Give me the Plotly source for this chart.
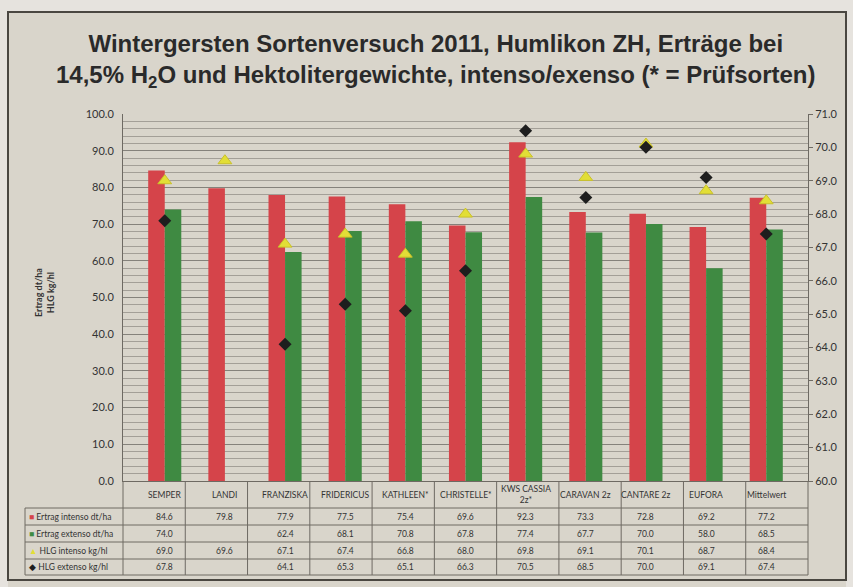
import plotly.graph_objects as go

categories = ["SEMPER", "LANDI", "FRANZISKA", "FRIDERICUS", "KATHLEEN*", "CHRISTELLE*",
              "KWS CASSIA 2z*", "CARAVAN 2z", "CANTARE 2z", "EUFORA", "Mittelwert"]
header_labels = ["SEMPER", "LANDI", "FRANZISKA", "FRIDERICUS", "KATHLEEN*", "CHRISTELLE*",
                 "KWS CASSIA<br>2z*", "CARAVAN 2z", "CANTARE 2z", "EUFORA", "Mittelwert"]
ertrag_intenso = [84.6, 79.8, 77.9, 77.5, 75.4, 69.6, 92.3, 73.3, 72.8, 69.2, 77.2]
ertrag_extenso = [74.0, None, 62.4, 68.1, 70.8, 67.8, 77.4, 67.7, 70.0, 58.0, 68.5]
hlg_intenso = [69.0, 69.6, 67.1, 67.4, 66.8, 68.0, 69.8, 69.1, 70.1, 68.7, 68.4]
hlg_extenso = [67.8, None, 64.1, 65.3, 65.1, 66.3, 70.5, 68.5, 70.0, 69.1, 67.4]
series_names = ["Ertrag intenso dt/ha", "Ertrag extenso dt/ha", "HLG intenso kg/hl", "HLG extenso kg/hl"]

RED = "#d5444a"
GREEN = "#3f8a42"
YELLOW = "#e2de36"
BLACK = "#1e1e1e"
PAPER = "#d9d5cb"
OUTSIDE = "#e6e3de"
LINE = "#6e6a63"
TXT = "#333333"

W, H = 853, 587
L, R, T, B = 123, 808, 114, 481


def px(x):
    return (x - L) / (R - L)


def py(y):
    return (B - y) / (B - T)


fig = go.Figure()
fig.add_trace(go.Bar(x=categories, y=ertrag_intenso, name=series_names[0], marker_color=RED,
                     marker_line_width=0))
fig.add_trace(go.Bar(x=categories, y=ertrag_extenso, name=series_names[1], marker_color=GREEN,
                     marker_line_width=0))
fig.add_trace(go.Scatter(x=categories, y=hlg_intenso, name=series_names[2], mode="markers", yaxis="y2",
                         marker=dict(symbol="triangle-up", size=12, color=YELLOW,
                                     line=dict(color="#c9c12a", width=1))))
fig.add_trace(go.Scatter(x=categories, y=hlg_extenso, name=series_names[3], mode="markers", yaxis="y2",
                         marker=dict(symbol="diamond", size=10, color=BLACK)))

shapes = []
# light border outside the frame
for x0, x1, y0, y1 in [(0, W, 0, 12), (0, 8, 0, H), (846, W, 0, H), (580, H, 0, 0)][:3]:
    shapes.append(dict(type="rect", xref="paper", yref="paper", x0=px(x0), x1=px(x1), y0=py(y1), y1=py(y0),
                       line=dict(width=0), fillcolor=OUTSIDE))
# outer frame
shapes.append(dict(type="rect", xref="paper", yref="paper", x0=px(8), x1=px(846), y0=py(580), y1=py(12),
                   line=dict(color="#4a4741", width=2)))
# table lines
n = len(categories)
for i in range(n + 1):
    shapes.append(dict(type="line", xref="paper", yref="paper", x0=i / n, x1=i / n, y0=py(481), y1=py(575),
                       line=dict(color=LINE, width=1)))
shapes.append(dict(type="line", xref="paper", yref="paper", x0=px(25), x1=px(25), y0=py(508), y1=py(575),
                   line=dict(color=LINE, width=1)))
for yy in [508, 525, 542, 559, 575]:
    shapes.append(dict(type="line", xref="paper", yref="paper", x0=px(25), x1=1, y0=py(yy), y1=py(yy),
                       line=dict(color=LINE, width=1)))

annotations = []
tfont = dict(family="Lato, Liberation Sans, sans-serif", size=8.5, color=TXT)
for c, lab in zip(categories, header_labels):
    annotations.append(dict(x=c, xref="x", y=py(495), yref="paper", text=lab, showarrow=False,
                            font=tfont, xanchor="center", yanchor="middle"))
row_y = [516.5, 533.5, 550.5, 567]
rows = [ertrag_intenso, ertrag_extenso, hlg_intenso, hlg_extenso]
for yy, vals in zip(row_y, rows):
    for c, v in zip(categories, vals):
        if v is None:
            continue
        annotations.append(dict(x=c, xref="x", y=py(yy), yref="paper", text=f"{v:.1f}", showarrow=False,
                                font=tfont, xanchor="center", yanchor="middle"))
keys = [f'<span style="color:{RED}">■</span>', f'<span style="color:{GREEN}">■</span>',
        f'<span style="color:{YELLOW}">▲</span>', f'<span style="color:{BLACK}">◆</span>']
for yy, k, name in zip(row_y, keys, series_names):
    annotations.append(dict(x=px(27), xref="paper", y=py(yy), yref="paper", text=k + " " + name,
                            showarrow=False, font=tfont, xanchor="left", yanchor="middle"))
# axis title
annotations.append(dict(x=px(44), xref="paper", y=py(293), yref="paper", text="<b>Ertrag dt/ha<br>HLG kg/hl</b>",
                        textangle=-90, showarrow=False, xanchor="center", yanchor="middle",
                        font=dict(family="Lato, Liberation Sans, sans-serif", size=9, color=TXT)))
# title
annotations.append(dict(x=px(436), xref="paper", y=py(61), yref="paper",
                        text="<b>Wintergersten Sortenversuch 2011, Humlikon ZH, Erträge bei<br>"
                             "14,5% H<sub>2</sub>O und Hektolitergewichte, intenso/exenso (* = Prüfsorten)</b>",
                        showarrow=False, xanchor="center", yanchor="middle",
                        font=dict(family="Liberation Sans Narrow, Arial Narrow, Liberation Sans, sans-serif",
                                  size=24, color="#2a2a2a")))

fig.update_layout(
    width=W, height=H,
    margin=dict(l=L, r=W - R, t=T, b=H - B),
    paper_bgcolor=PAPER,
    plot_bgcolor=PAPER,
    barmode="group", bargap=0.45, bargroupgap=0,
    showlegend=False,
    shapes=shapes,
    annotations=annotations,
    xaxis=dict(showticklabels=False, showline=True, linecolor=LINE, linewidth=1, ticks="",
               showgrid=False, mirror=False),
    yaxis=dict(range=[0, 100], dtick=10, tickformat=".1f", showline=True, linecolor=LINE, linewidth=1,
               mirror=False, gridcolor="#85827b", gridwidth=1, zeroline=False,
               minor=dict(dtick=2, showgrid=True, gridcolor="#a39f97", gridwidth=1),
               tickfont=dict(family="Lato, Liberation Sans, sans-serif", size=11, color=TXT),
               ticks="", ticklabelstandoff=6),
    yaxis2=dict(range=[60, 71], dtick=1, tickformat=".1f", overlaying="y", side="right",
                showgrid=False, showline=True, linecolor=LINE, linewidth=1, ticks="outside",
                ticklen=4, tickcolor=LINE, zeroline=False,
                tickfont=dict(family="Lato, Liberation Sans, sans-serif", size=11, color=TXT)),
)

fig.write_html("out.html", config={"displayModeBar": False},
               post_script="document.body.style.margin='0';document.body.style.background='%s';" % OUTSIDE)
